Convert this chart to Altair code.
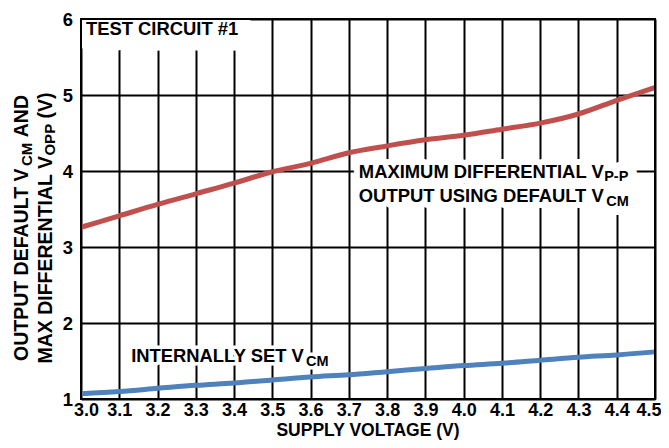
import altair as alt
import pandas as pd

# ---------------- data ----------------
supply_v = [3.0, 3.1, 3.2, 3.3, 3.4, 3.5, 3.6, 3.7, 3.8, 3.9, 4.0, 4.1, 4.2, 4.3, 4.4, 4.5]
max_diff_vpp = [3.26, 3.41, 3.56, 3.70, 3.84, 3.99, 4.10, 4.24, 4.33, 4.41, 4.47, 4.55, 4.63, 4.75, 4.93, 5.10]
internal_vcm = [1.07, 1.10, 1.14, 1.18, 1.21, 1.25, 1.29, 1.32, 1.36, 1.40, 1.44, 1.47, 1.51, 1.55, 1.58, 1.62]
x_ticks = [3.0, 3.1, 3.2, 3.3, 3.4, 3.5, 3.6, 3.7, 3.8, 3.9, 4.0, 4.1, 4.2, 4.3, 4.4, 4.5]
y_ticks = [1, 2, 3, 4, 5, 6]
x_title = "SUPPLY VOLTAGE (V)"

# ---------------- style / layout ----------------
W, H = 574, 380
X0, X1, Y0, Y1 = 3.0, 4.5, 1, 6
PX_X = W / (X1 - X0)
PX_Y = H / (Y1 - Y0)
FONT = "Liberation Sans"
RED = "#C0504D"
BLUE = "#4F81BD"
MAIN, SUB, SUBDY = 18.4, 14.5, 3.5

# Arial/Liberation Sans Bold advance widths (per 1000 em)
AW = {" ": 278, "(": 333, ")": 333, "-": 333, "#": 556, ".": 278,
      "A": 722, "B": 722, "C": 722, "D": 722, "E": 667, "F": 611, "G": 778, "H": 722,
      "I": 278, "J": 556, "K": 722, "L": 611, "M": 833, "N": 722, "O": 778, "P": 667,
      "Q": 778, "R": 722, "S": 667, "T": 611, "U": 722, "V": 667, "W": 944, "X": 667,
      "Y": 667, "Z": 611}
for d in "0123456789":
    AW[d] = 556


def tw(s, size):
    return sum(AW.get(c, 600) for c in s) / 1000.0 * size


xenc = alt.X("x:Q", scale=alt.Scale(domain=[X0, X1], nice=False, zero=False),
             axis=alt.Axis(values=x_ticks, format=".1f", title=None, labelPadding=2.5,
                           labelFontSize=18,
                           labelAlign={"condition": {"test": "datum.value >= 4.45", "value": "right"},
                                       "value": "center"},
                           labelOffset={"condition": [{"test": "datum.value >= 4.45", "value": 6},
                                                      {"test": "datum.value <= 3.05", "value": 5}],
                                        "value": 0}))
yenc = alt.Y("y:Q", scale=alt.Scale(domain=[Y0, Y1], nice=False, zero=False),
             axis=alt.Axis(values=y_ticks, format="d", title=None, labelPadding=8.5))

df_red = pd.DataFrame({"x": supply_v, "y": max_diff_vpp})
df_blue = pd.DataFrame({"x": supply_v, "y": internal_vcm})

red = alt.Chart(df_red).mark_line(color=RED, strokeWidth=5, interpolate="monotone").encode(x=xenc, y=yenc)
blue = alt.Chart(df_blue).mark_line(color=BLUE, strokeWidth=5, interpolate="monotone").encode(x=xenc, y=yenc)

# ---------------- in-plot annotations (with white halo) ----------------
# (pieces, left x, baseline y, halo for main text, halo for subscript)
notes = [
    ([("TEST CIRCUIT #1", False)], 3.013, 5.786, 31, 31),
    ([("MAXIMUM DIFFERENTIAL V", False), ("P-P", True)], 3.726, 3.909, 12, 18),
    ([("OUTPUT USING DEFAULT V", False), ("CM", True)], 3.726, 3.591, 12, 18),
    ([("INTERNALLY SET V", False), ("CM", True)], 3.131, 1.481, 7, 7),
]
rows = []
for pieces, x0, y0, halo, sub_halo in notes:
    off = 0.0
    for txt, sub in pieces:
        fs = SUB if sub else MAIN
        rows.append({"x": x0 + off / PX_X,
                     "y": y0 - (SUBDY / PX_Y if sub else 0.0),
                     "t": txt, "fs": fs, "halo": sub_halo if sub else halo})
        off += tw(txt, fs)
df_notes = pd.DataFrame(rows)

halo_layer = alt.Chart(df_notes).mark_text(
    align="left", baseline="alphabetic", font=FONT, fontWeight="bold",
    fill="white", stroke="white", strokeJoin="round", clip=True
).encode(x=xenc, y=yenc, text="t:N",
         size=alt.Size("fs:Q", scale=None, legend=None),
         strokeWidth=alt.StrokeWidth("halo:Q", scale=None, legend=None))

text_layer = alt.Chart(df_notes).mark_text(
    align="left", baseline="alphabetic", font=FONT, fontWeight="bold", color="black"
).encode(x=xenc, y=yenc, text="t:N",
         size=alt.Size("fs:Q", scale=None, legend=None))

one = pd.DataFrame({"a": [0]})
frame = alt.Chart(one).mark_rect(filled=False, stroke="black", strokeWidth=2).encode(
    x=alt.value(0), x2=alt.value(W), y=alt.value(0), y2=alt.value(H))

# x-axis title as a text mark (kept inside the page)
xtitle = alt.Chart(one).mark_text(
    align="center", baseline="alphabetic", font=FONT, fontWeight="bold",
    fontSize=17.5, color="black"
).encode(x=alt.value(W / 2), y=alt.value(H + 37), text=alt.value(x_title))

# ---------------- rotated y-axis title with subscripts ----------------
YT_MAIN, YT_SUB = 19.5, 15
ytitle_lines = [
    ([("OUTPUT DEFAULT V", False), ("CM", True), (" AND", False)], -53),
    ([("MAX DIFFERENTIAL V", False), ("OPP", True), (" (V)", False)], -29.5),
]
center_py = 209
ytitle_layers = []
for pieces, bx in ytitle_lines:
    total = sum(tw(t, YT_SUB if s else YT_MAIN) for t, s in pieces)
    start = center_py + total / 2.0
    off = 0.0
    for txt, sub in pieces:
        fs = YT_SUB if sub else YT_MAIN
        lead = len(txt) - len(txt.lstrip(" "))
        lead_w = tw(" " * lead, fs)
        ytitle_layers.append(
            alt.Chart(one).mark_text(
                angle=270, align="left", baseline="alphabetic", font=FONT,
                fontWeight="bold", fontSize=fs, color="black"
            ).encode(x=alt.value(bx + (SUBDY if sub else 0)),
                     y=alt.value(start - off - lead_w),
                     text=alt.value(txt.strip()))
        )
        off += tw(txt, fs)

chart = alt.layer(red, blue, halo_layer, text_layer, frame, xtitle, *ytitle_layers).properties(
    width=W, height=H,
    autosize=alt.AutoSizeParams(type="none"),
    padding={"left": 73, "top": 11, "right": 6, "bottom": 41},
).configure_view(stroke=None).configure_axis(
    labelFont=FONT, labelFontWeight="bold", labelFontSize=18.4, labelColor="black",
    titleFont=FONT, titleFontWeight="bold", titleColor="black",
    grid=True, gridColor="black", gridWidth=2, gridOpacity=1,
    domain=False, ticks=False, tickSize=0,
    labelFlush=False, labelOverlap=False,
)

chart.save("out.html", embed_options={"renderer": "svg", "actions": False})
